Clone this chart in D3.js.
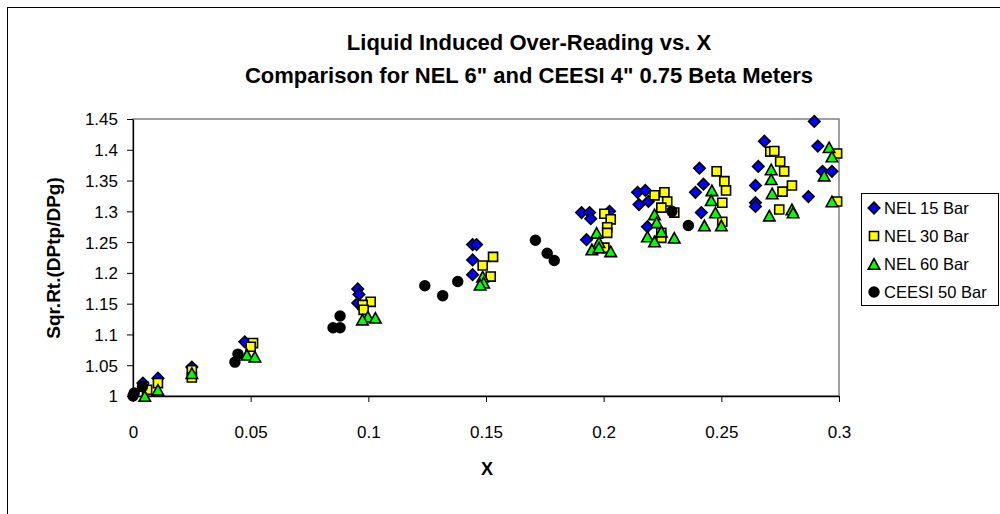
<!DOCTYPE html>
<html>
<head>
<meta charset="utf-8">
<script src="https://cdn.jsdelivr.net/npm/d3@7"></script>
<style>
  html, body { margin: 0; padding: 0; background: #fff; }
  svg { display: block; font-family: "Liberation Sans", Arial, sans-serif; }
</style>
</head>
<body>
<svg id="chart" width="1000" height="514"></svg>
<script>
// ---------- data ----------
const titleLines = ["Liquid Induced Over-Reading vs. X", "Comparison for NEL 6\" and CEESI 4\" 0.75 Beta Meters"];
const xTitle = "X";
const yTitle = "Sqr.Rt.(DPtp/DPg)";
const xTicks = [0, 0.05, 0.1, 0.15, 0.2, 0.25, 0.3];
const xTickLabels = ["0", "0.05", "0.1", "0.15", "0.2", "0.25", "0.3"];
const yTicks = [1, 1.05, 1.1, 1.15, 1.2, 1.25, 1.3, 1.35, 1.4, 1.45];
const yTickLabels = ["1", "1.05", "1.1", "1.15", "1.2", "1.25", "1.3", "1.35", "1.4", "1.45"];
const seriesNames = ["NEL 15 Bar", "NEL 30 Bar", "NEL 60 Bar", "CEESI 50 Bar"];

const nel15 = [[0.0042,1.021],[0.0106,1.029],[0.025,1.047],[0.0475,1.088],[0.0955,1.174],[0.096,1.165],[0.0955,1.151],
  [0.1443,1.246],[0.146,1.246],[0.1443,1.221],[0.1443,1.197],[0.1906,1.298],[0.194,1.298],[0.1945,1.288],[0.1927,1.254],
  [0.2025,1.300],[0.2144,1.331],[0.2177,1.334],[0.215,1.311],[0.219,1.316],[0.2186,1.275],[0.2407,1.370],[0.2424,1.344],
  [0.239,1.331],[0.2415,1.298],[0.2683,1.414],[0.2657,1.373],[0.2645,1.342],[0.2645,1.314],[0.2645,1.308],[0.2895,1.446],
  [0.291,1.406],[0.293,1.365],[0.297,1.365],[0.287,1.324]];
const nel30 = [[0.0045,1.015],[0.006,1.01],[0.0106,1.021],[0.025,1.042],[0.025,1.03],[0.051,1.086],[0.05,1.08],
  [0.101,1.153],[0.0976,1.148],[0.098,1.14],[0.153,1.226],[0.1486,1.212],[0.152,1.194],[0.2003,1.296],[0.203,1.287],
  [0.2015,1.274],[0.2015,1.265],[0.2003,1.241],[0.2216,1.326],[0.2258,1.331],[0.227,1.316],[0.2245,1.306],[0.23,1.298],
  [0.2245,1.265],[0.2245,1.257],[0.248,1.365],[0.2513,1.349],[0.252,1.334],[0.2504,1.314],[0.2504,1.283],[0.2708,1.397],
  [0.2725,1.398],[0.275,1.381],[0.2767,1.365],[0.28,1.342],[0.276,1.332],[0.2746,1.303],[0.2992,1.394],[0.2992,1.316]];
const nel60 = [[0.005,1.0],[0.0106,1.01],[0.025,1.037],[0.0484,1.067],[0.0518,1.064],[0.0998,1.129],[0.103,1.127],
  [0.0975,1.124],[0.1486,1.194],[0.149,1.184],[0.1475,1.181],[0.197,1.265],[0.198,1.25],[0.195,1.238],[0.198,1.241],
  [0.203,1.235],[0.2216,1.295],[0.2225,1.282],[0.2245,1.267],[0.2186,1.259],[0.2216,1.251],[0.230,1.257],[0.246,1.334],
  [0.2457,1.318],[0.2475,1.298],[0.2428,1.277],[0.25,1.277],[0.2712,1.368],[0.2712,1.352],[0.2716,1.329],[0.2704,1.293],
  [0.28,1.303],[0.2805,1.298],[0.2958,1.404],[0.297,1.389],[0.2937,1.358],[0.297,1.316]];
const ceesi50 = [[0,1.0],[0.0005,1.005],[0.004,1.015],[0.0433,1.055],[0.0446,1.068],[0.085,1.111],[0.088,1.111],
  [0.088,1.13],[0.124,1.179],[0.1316,1.163],[0.138,1.186],[0.171,1.253],[0.176,1.232],[0.179,1.22],[0.229,1.30],[0.236,1.277]];

// ---------- styles ----------
const seriesData = [nel15, nel30, nel60, ceesi50];
const fills = ["#0000FF", "#FFFF00", "#00FF00", "#000000"];
const shapes = ["diamond", "square", "triangle", "circle"];

const svg = d3.select("#chart");
const plot = { left: 133, right: 839, top: 119, bottom: 396 };
const x = d3.scaleLinear().domain([0, 0.3]).range([plot.left, plot.right]);
const y = d3.scaleLinear().domain([1, 1.45]).range([plot.bottom, plot.top]);

function markerPath(shape) {
  if (shape === "diamond") return d3.symbol().type(d3.symbolSquare).size(66)();
  if (shape === "square") return d3.symbol().type(d3.symbolSquare).size(82)();
  if (shape === "triangle") {
    const w = 11.5, h = 10.5;
    return `M0,${-h/2}L${w/2},${h/2}L${-w/2},${h/2}Z`;
  }
  return d3.symbol().type(d3.symbolCircle).size(76)();
}
function markerTransform(shape, px, py) {
  return shape === "diamond" ? `translate(${px},${py}) rotate(45)` : `translate(${px},${py})`;
}

// outer chart frame
svg.append("rect").attr("x", 7.5).attr("y", 7.5).attr("width", 1010).attr("height", 520)
  .attr("fill", "#fff").attr("stroke", "#000").attr("stroke-width", 1);

// titles
svg.selectAll("text.title").data(titleLines).enter().append("text")
  .attr("class", "title")
  .attr("x", 529).attr("y", (d, i) => 50 + i * 33)
  .attr("text-anchor", "middle")
  .attr("font-size", 22).attr("font-weight", "bold")
  .text(d => d);

// plot area border (gray)
svg.append("rect").attr("x", plot.left).attr("y", plot.top)
  .attr("width", plot.right - plot.left).attr("height", plot.bottom - plot.top)
  .attr("fill", "none").attr("stroke", "#808080").attr("stroke-width", 1.5);

// axes
const xAxis = d3.axisBottom(x).tickValues(xTicks).tickSize(6).tickSizeOuter(0)
  .tickFormat((d, i) => xTickLabels[i]);
const yAxis = d3.axisLeft(y).tickValues(yTicks).tickSize(6).tickSizeOuter(0)
  .tickFormat((d, i) => yTickLabels[i]);

const gx = svg.append("g").attr("transform", `translate(0,${plot.bottom})`).call(xAxis);
gx.select(".domain").attr("stroke", "#000").attr("stroke-width", 1.3);
gx.selectAll(".tick line").attr("stroke", "#000");
gx.selectAll(".tick text").attr("font-size", 17).attr("font-family", "Liberation Sans, Arial, sans-serif")
  .attr("fill", "#000").attr("dy", "0").attr("y", 42);

const gy = svg.append("g").attr("transform", `translate(${plot.left},0)`).call(yAxis);
gy.select(".domain").attr("stroke", "#000").attr("stroke-width", 1.3);
gy.selectAll(".tick line").attr("stroke", "#000");
gy.selectAll(".tick text").attr("font-size", 17).attr("font-family", "Liberation Sans, Arial, sans-serif")
  .attr("fill", "#000").attr("x", -15).attr("dy", "0.35em");

// axis titles
svg.append("text").attr("x", 487).attr("y", 475).attr("text-anchor", "middle")
  .attr("font-size", 18).attr("font-weight", "bold").text(xTitle);
svg.append("text").attr("transform", "translate(60,258) rotate(-90)").attr("text-anchor", "middle")
  .attr("font-size", 19).attr("font-weight", "bold").text(yTitle);

// series markers
seriesData.forEach((data, si) => {
  svg.append("g").selectAll("path").data(data).enter().append("path")
    .attr("d", markerPath(shapes[si]))
    .attr("transform", d => markerTransform(shapes[si], x(d[0]), y(d[1])))
    .attr("fill", fills[si]).attr("stroke", "#000").attr("stroke-width", 1.6);
});

// legend
const lg = svg.append("g");
lg.append("rect").attr("x", 861.5).attr("y", 193.5).attr("width", 137).attr("height", 112)
  .attr("fill", "#fff").attr("stroke", "#000").attr("stroke-width", 1);
seriesNames.forEach((name, i) => {
  const cy = 208 + i * 28;
  lg.append("path").attr("d", markerPath(shapes[i]))
    .attr("transform", markerTransform(shapes[i], 874, cy))
    .attr("fill", fills[i]).attr("stroke", "#000").attr("stroke-width", 1.6);
  lg.append("text").attr("x", 884).attr("y", cy).attr("dy", "0.36em")
    .attr("font-size", 16.5).text(name);
});
</script>
</body>
</html>
